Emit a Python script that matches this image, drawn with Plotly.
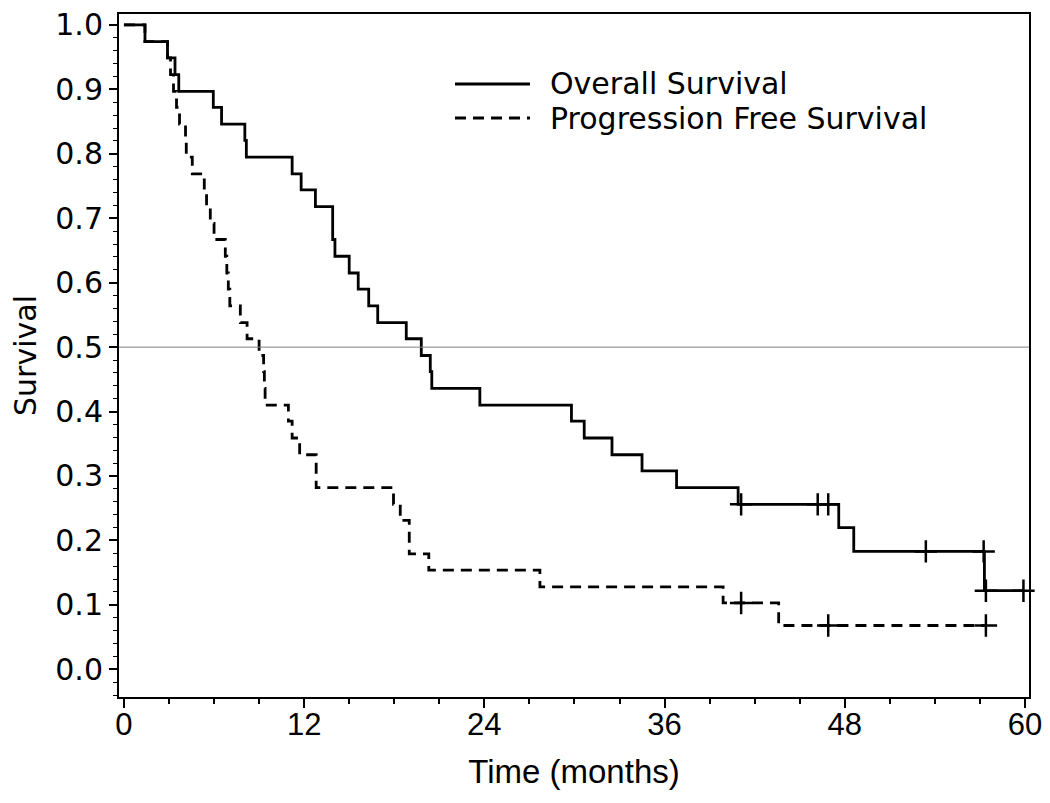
import plotly.graph_objects as go

# ---- data ----
os_time = [0, 1.4, 2.9, 3.4, 3.65, 5.95, 6.5, 8.05, 8.15, 11.2, 11.8, 12.75, 13.9, 14.05,
           15.0, 15.6, 16.3, 16.9, 18.8, 19.8, 20.4, 20.5, 23.7, 29.8, 30.65, 32.5, 34.5,
           36.8, 40.9, 47.6, 48.6, 57.3, 59.9]
os_surv = [1.0, 0.974, 0.949, 0.923, 0.897, 0.872, 0.846, 0.821, 0.795, 0.769, 0.744, 0.718,
           0.667, 0.641, 0.615, 0.590, 0.564, 0.538, 0.513, 0.487, 0.462, 0.436, 0.410, 0.385,
           0.359, 0.333, 0.308, 0.282, 0.256, 0.220, 0.183, 0.122, 0.122]

pfs_time = [0, 1.4, 2.9, 3.1, 3.3, 3.5, 3.7, 4.1, 4.15, 4.55, 5.35, 5.5, 5.75, 6.0, 6.75,
            6.85, 6.95, 7.05, 7.75, 8.2, 9.0, 9.3, 9.35, 9.4, 10.95, 11.2, 11.7, 12.8, 17.95,
            18.4, 19.0, 20.3, 27.7, 39.9, 43.6, 57.4]
pfs_surv = [1.0, 0.974, 0.949, 0.923, 0.897, 0.872, 0.846, 0.821, 0.795, 0.769, 0.744, 0.718,
            0.692, 0.667, 0.641, 0.615, 0.590, 0.564, 0.538, 0.513, 0.487, 0.462, 0.436, 0.410,
            0.385, 0.359, 0.333, 0.282, 0.256, 0.231, 0.179, 0.154, 0.128, 0.103, 0.068, 0.068]

os_cens_time = [41.1, 46.2, 46.9, 53.4, 57.25, 57.4, 59.9]
os_cens_surv = [0.256, 0.256, 0.256, 0.183, 0.183, 0.122, 0.122]
pfs_cens_time = [41.1, 46.9, 57.4]
pfs_cens_surv = [0.103, 0.068, 0.068]

x_ticks = [0, 12, 24, 36, 48, 60]
y_ticks = [0.0, 0.1, 0.2, 0.3, 0.4, 0.5, 0.6, 0.7, 0.8, 0.9, 1.0]
series_names = ["Overall Survival", "Progression Free Survival"]

# ---- layout geometry (page pixels; the page body adds an 8px offset) ----
OFF = 8
W, H = 1050 - OFF, 803 - OFF
L, R, T, B = 119 - OFF, 1029 - OFF, 14 - OFF, 697 - OFF
DASH = "11px,7px"


def px_x(p):
    return (p - OFF - L) / (R - L)


def px_y(p):
    return (B - (p - OFF)) / (B - T)


fig = go.Figure()

fig.add_trace(go.Scatter(x=os_time, y=os_surv, mode="lines", line_shape="hv",
                         line=dict(color="black", width=2.8), name=series_names[0],
                         showlegend=False))
fig.add_trace(go.Scatter(x=pfs_time, y=pfs_surv, mode="lines", line_shape="hv",
                         line=dict(color="black", width=2.8, dash=DASH), name=series_names[1],
                         showlegend=False))
fig.add_trace(go.Scatter(x=os_cens_time, y=os_cens_surv, mode="markers", cliponaxis=False,
                         marker=dict(symbol="cross-thin", size=16,
                                     line=dict(color="black", width=2.5)),
                         showlegend=False))
fig.add_trace(go.Scatter(x=pfs_cens_time, y=pfs_cens_surv, mode="markers", cliponaxis=False,
                         marker=dict(symbol="cross-thin", size=16,
                                     line=dict(color="black", width=2.5)),
                         showlegend=False))

fig.add_hline(y=0.5, line=dict(color="#808080", width=1))

# manual legend (positions in reference-page pixels)
leg_x0, leg_x1, leg_tx = 455, 530, 548
leg_rows = [84, 118]
fig.add_shape(type="line", xref="paper", yref="paper",
              x0=px_x(leg_x0), x1=px_x(leg_x1), y0=px_y(leg_rows[0]), y1=px_y(leg_rows[0]),
              line=dict(color="black", width=2.8))
fig.add_shape(type="line", xref="paper", yref="paper",
              x0=px_x(leg_x0), x1=px_x(leg_x1), y0=px_y(leg_rows[1]), y1=px_y(leg_rows[1]),
              line=dict(color="black", width=2.8, dash=DASH))
for name, row in zip(series_names, leg_rows):
    fig.add_annotation(x=px_x(leg_tx), y=px_y(row), xref="paper", yref="paper",
                       text=name, showarrow=False, xanchor="left", yanchor="middle",
                       font=dict(family="DejaVu Sans", size=30, color="black"))

fig.update_layout(
    width=W, height=H,
    margin=dict(l=L, r=W - R, t=T, b=H - B, pad=0),
    plot_bgcolor="white", paper_bgcolor="white",
    font=dict(family="DejaVu Sans", color="black"),
)

fig.update_xaxes(
    range=[-0.33, 60.27], tickvals=x_ticks, ticktext=[str(v) for v in x_ticks],
    ticks="outside", ticklen=9, tickwidth=2, tickcolor="black",
    minor=dict(dtick=3, tick0=0, ticks="outside", ticklen=5, tickwidth=1.5, tickcolor="black"),
    showline=True, linecolor="black", linewidth=2, mirror=True,
    showgrid=False, zeroline=False,
    tickfont=dict(family="Liberation Sans", size=31, color="black"),
    ticklabelstandoff=-10, ticklabeloverflow="allow",
    title=dict(text="Time (months)", font=dict(family="Liberation Sans", size=33, color="black"),
               standoff=19),
    automargin=False,
)
fig.update_yaxes(
    range=[-0.043, 1.017], tickvals=y_ticks, ticktext=[f"{v:.1f}" for v in y_ticks],
    ticks="outside", ticklen=8, tickwidth=2, tickcolor="black",
    minor=dict(dtick=0.02, tick0=0, ticks="outside", ticklen=4, tickwidth=1, tickcolor="black"),
    showline=True, linecolor="black", linewidth=2, mirror=True,
    showgrid=False, zeroline=False,
    tickfont=dict(family="DejaVu Sans", size=30, color="black"),
    ticklabeloverflow="allow",
    title=dict(text="Survival", font=dict(family="DejaVu Sans", size=30, color="black"),
               standoff=14),
    automargin=False,
)

fig.write_html("out.html")
